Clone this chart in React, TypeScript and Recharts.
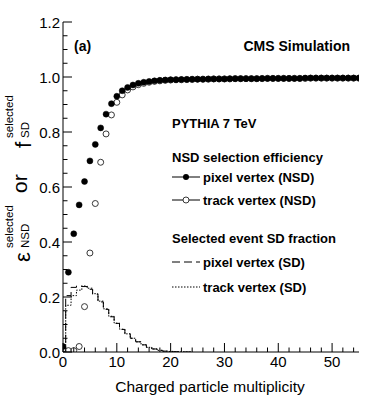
import React from 'react';
import { ComposedChart, Line, XAxis, YAxis } from 'recharts';

const multiplicity = [
  0, 1, 2, 3, 4, 5, 6, 7, 8, 9,
  10, 11, 12, 13, 14, 15, 16, 17, 18, 19,
  20, 21, 22, 23, 24, 25, 26, 27, 28, 29,
  30, 31, 32, 33, 34, 35, 36, 37, 38, 39,
  40, 41, 42, 43, 44, 45, 46, 47, 48, 49,
  50, 51, 52, 53, 54, 55,
];

// NSD selection efficiency
const pixelNSD = [
  0.02, 0.29, 0.43, 0.535, 0.62, 0.695, 0.755, 0.815, 0.865, 0.903,
  0.93, 0.95, 0.962, 0.971, 0.977, 0.981, 0.984, 0.986, 0.988, 0.989,
  0.99, 0.99, 0.991, 0.991, 0.992, 0.992, 0.992, 0.993, 0.993, 0.993,
  0.993, 0.994, 0.994, 0.994, 0.994, 0.994, 0.994, 0.995, 0.995, 0.995,
  0.995, 0.995, 0.995, 0.995, 0.995, 0.996, 0.996, 0.996, 0.996, 0.996,
  0.996, 0.996, 0.996, 0.996, 0.996, 0.996,
];
const trackNSD = [
  null, 0.005, 0.005, 0.02, 0.165, 0.36, 0.54, 0.69, 0.793, 0.862,
  0.908, 0.935, 0.953, 0.964, 0.972, 0.977, 0.981, 0.984, 0.986, 0.988,
  0.989, 0.99, 0.99, 0.991, 0.991, 0.992, 0.992, 0.992, 0.993, 0.993,
  0.993, 0.993, 0.994, 0.994, 0.994, 0.994, 0.994, 0.994, 0.995, 0.995,
  0.995, 0.995, 0.995, 0.995, 0.995, 0.995, 0.996, 0.996, 0.996, 0.996,
  0.996, 0.996, 0.996, 0.996, 0.996, 0.996,
];

// selected event SD fraction (histograms, one bin per multiplicity)
const pixelSD = [
  0, 0.205, 0.235, 0.24, 0.238, 0.228, 0.21, 0.182, 0.155, 0.128,
  0.104, 0.082, 0.066, 0.05, 0.037, 0.026, 0.017, 0.011, 0.006, 0.003,
  0.002, 0.001, 0, 0, 0,
];
const trackSD = [
  0, 0.17, 0.205, 0.225, 0.24, 0.232, 0.212, 0.185, 0.157, 0.13,
  0.105, 0.083, 0.066, 0.05, 0.037, 0.026, 0.017, 0.011, 0.006, 0.003,
  0.002, 0.001, 0, 0, 0,
];

const xTicks = [0, 2, 4, 6, 8, 10, 12, 14, 16, 18, 20, 22, 24, 26, 28, 30, 32, 34, 36, 38, 40, 42, 44, 46, 48, 50, 52, 54];
const xLabels = [0, 10, 20, 30, 40, 50];
const yTicks = [
  0, 0.05, 0.1, 0.15, 0.2, 0.25, 0.3, 0.35, 0.4, 0.45, 0.5, 0.55, 0.6,
  0.65, 0.7, 0.75, 0.8, 0.85, 0.9, 0.95, 1.0, 1.05, 1.1, 1.15, 1.2,
];
const yLabels = ['0.0', '0.2', '0.4', '0.6', '0.8', '1.0', '1.2'];

const data = multiplicity.map((x, i) => ({
  x,
  pixelNSD: pixelNSD[i],
  trackNSD: trackNSD[i],
  pixelSD: i < pixelSD.length ? pixelSD[i] : undefined,
  trackSD: i < trackSD.length ? trackSD[i] : undefined,
}));

const FONT = '"Liberation Sans", Arial, Helvetica, sans-serif';
const MAJOR = 9;
const MINOR = 4.5;

const isYMajor = (v: number) => yLabels.includes(v.toFixed(1)) && Math.abs(v * 5 - Math.round(v * 5)) < 1e-6;
const isXMajor = (v: number) => xLabels.includes(v);

const BottomTick = (props: any) => {
  const { x, y, payload } = props;
  const major = isXMajor(payload.value);
  return (
    <g>
      <line x1={x} x2={x} y1={y} y2={y - (major ? MAJOR : MINOR)} stroke="#000" strokeWidth={1} />
      {major && (
        <text x={x} y={y + 15} textAnchor="middle" fontSize={15} fontFamily={FONT} fill="#000">
          {payload.value}
        </text>
      )}
    </g>
  );
};

const TopTick = (props: any) => {
  const { x, y, payload } = props;
  const major = isXMajor(payload.value);
  return <line x1={x} x2={x} y1={y} y2={y + (major ? MAJOR : MINOR)} stroke="#000" strokeWidth={1} />;
};

const LeftTick = (props: any) => {
  const { x, y, payload } = props;
  const major = isYMajor(payload.value);
  return (
    <g>
      <line x1={x} x2={x + (major ? MAJOR : MINOR)} y1={y} y2={y} stroke="#000" strokeWidth={1} />
      {major && (
        <text x={x - 3} y={y + 5.5} textAnchor="end" fontSize={15} fontFamily={FONT} fill="#000">
          {payload.value.toFixed(1)}
        </text>
      )}
    </g>
  );
};

const RightTick = (props: any) => {
  const { x, y, payload } = props;
  const major = isYMajor(payload.value);
  return <line x1={x} x2={x - (major ? MAJOR : MINOR)} y1={y} y2={y} stroke="#000" strokeWidth={1} />;
};

const rot = (x: number, y: number) => `translate(${x}, ${y}) rotate(-90)`;

const Overlay = () => (
  <svg width={374} height={410} style={{ position: 'absolute', left: 0, top: 0, pointerEvents: 'none' }}>
    <g fontFamily={FONT} fill="#000">
      {/* y axis title */}
      <text transform={rot(30, 262)} fontSize={22}>ε</text>
      <text transform={rot(13, 248)} fontSize={11.5}>selected</text>
      <text transform={rot(29, 248)} fontSize={11.5}>NSD</text>
      <text transform={rot(27, 193)} fontSize={21}>or</text>
      <text transform={rot(31, 148)} fontSize={22}>f</text>
      <text transform={rot(13, 138)} fontSize={11.5}>selected</text>
      <text transform={rot(29, 138)} fontSize={11.5}>SD</text>

      {/* x axis title */}
      <text x={210} y={392} textAnchor="middle" fontSize={15.5}>Charged particle multiplicity</text>

      <g fontWeight="bold">
        <text x={74} y={51} fontSize={14}>(a)</text>
        <text x={350} y={51} fontSize={14} textAnchor="end">CMS Simulation</text>
        <text x={172} y={128} fontSize={13}>PYTHIA 7 TeV</text>
        <text x={172} y={162} fontSize={13}>NSD selection efficiency</text>
        <text x={203} y={182} fontSize={13}>pixel vertex (NSD)</text>
        <text x={203} y={205} fontSize={13}>track vertex (NSD)</text>
        <text x={172} y={243} fontSize={13}>Selected event SD fraction</text>
        <text x={203} y={267} fontSize={13}>pixel vertex (SD)</text>
        <text x={203} y={292} fontSize={13}>track vertex (SD)</text>
      </g>

      {/* legend markers */}
      <line x1={172} x2={200} y1={177} y2={177} stroke="#000" strokeWidth={1} />
      <circle cx={186} cy={177} r={3} fill="#000" />
      <line x1={172} x2={200} y1={200} y2={200} stroke="#000" strokeWidth={1} />
      <circle cx={186} cy={200} r={3} fill="#fff" stroke="#222" strokeWidth={0.9} />
      <line x1={172} x2={200} y1={262} y2={262} stroke="#000" strokeWidth={1} strokeDasharray="8 4" />
      <line x1={172} x2={200} y1={287} y2={287} stroke="#000" strokeWidth={1} strokeDasharray="1.5 1.5" />
    </g>
  </svg>
);

export default function App() {
  return (
    <div style={{ position: 'absolute', left: 0, top: 0, width: 374, height: 410, background: '#fff' }}>
      <ComposedChart width={374} height={410} data={data} margin={{ top: 22, right: 15, bottom: 0, left: 0 }}>
        <XAxis
          dataKey="x"
          type="number"
          domain={[0, 55]}
          allowDataOverflow
          ticks={xTicks}
          interval={0}
          height={58}
          tickSize={0}
          tickMargin={0}
          tickLine={false}
          axisLine={{ stroke: '#000', strokeWidth: 1 }}
          tick={BottomTick}
        />
        <XAxis
          xAxisId="top"
          orientation="top"
          dataKey="x"
          type="number"
          domain={[0, 55]}
          allowDataOverflow
          ticks={xTicks}
          interval={0}
          height={0}
          tickSize={0}
          tickMargin={0}
          tickLine={false}
          axisLine={{ stroke: '#000', strokeWidth: 1 }}
          tick={TopTick}
        />
        <YAxis
          type="number"
          domain={[0, 1.2]}
          allowDataOverflow
          ticks={yTicks}
          interval={0}
          width={63}
          tickSize={0}
          tickMargin={0}
          tickLine={false}
          axisLine={{ stroke: '#000', strokeWidth: 1 }}
          tick={LeftTick}
        />
        <YAxis
          yAxisId="right"
          orientation="right"
          type="number"
          domain={[0, 1.2]}
          allowDataOverflow
          ticks={yTicks}
          interval={0}
          width={0}
          tickSize={0}
          tickMargin={0}
          tickLine={false}
          axisLine={{ stroke: '#000', strokeWidth: 1 }}
          tick={RightTick}
        />
        <Line
          dataKey="trackSD"
          type="step"
          stroke="#000"
          strokeWidth={1}
          strokeDasharray="1.5 1.5"
          dot={false}
          activeDot={false}
          isAnimationActive={false}
        />
        <Line
          dataKey="pixelSD"
          type="step"
          stroke="#000"
          strokeWidth={1}
          strokeDasharray="8 4"
          dot={false}
          activeDot={false}
          isAnimationActive={false}
        />
        <Line
          dataKey="trackNSD"
          stroke="none"
          dot={{ r: 3, fill: 'none', stroke: '#222', strokeWidth: 0.9 }}
          activeDot={false}
          isAnimationActive={false}
        />
        <Line
          dataKey="pixelNSD"
          stroke="none"
          dot={{ r: 3, fill: '#000', stroke: '#000', strokeWidth: 0.5 }}
          activeDot={false}
          isAnimationActive={false}
        />
      </ComposedChart>
      <Overlay />
    </div>
  );
}
